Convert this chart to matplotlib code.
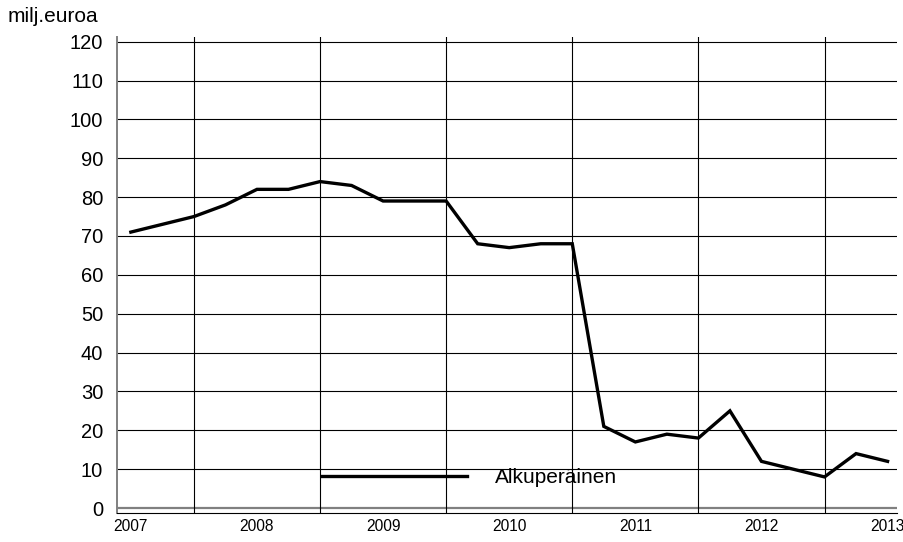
import numpy as np
import matplotlib.pyplot as plt

plt.rcParams['font.family'] = ['Liberation Sans', 'DejaVu Sans']

# quarterly values, 2007 Q1 .. 2013 Q1
values = [71, 73, 75, 78, 82, 82, 84, 83, 79, 79, 79, 68, 67, 68, 68,
          21, 17, 19, 18, 25, 12, 10, 8, 14, 12]
years = ['2007', '2008', '2009', '2010', '2011', '2012', '2013']
yticks = list(range(0, 121, 10))
series_name = 'Alkuperäinen'

x = np.arange(len(values))

fig = plt.figure(figsize=(9.04, 5.42), dpi=100)
ax = fig.add_axes([0.1294, 0.0544, 0.8629, 0.8773])

# grid
for v in yticks:
    if v == 0:
        ax.axhline(v, color='#808080', lw=1.6, zorder=1)
    else:
        ax.axhline(v, color='black', lw=0.8, zorder=1)
for xv in range(2, len(values), 4):
    ax.axvline(xv, color='black', lw=0.8, zorder=1)

ax.plot(x, values, color='black', lw=2.4, solid_joinstyle='miter', label=series_name, zorder=3)

ax.set_xlim(-0.44, 24.3)
ax.set_ylim(-1.16, 121.2)

ax.set_yticks(yticks)
ax.set_yticklabels([str(v) for v in yticks], fontsize=14.5)
ax.set_xticks(range(0, len(values), 4))
ax.set_xticklabels(years, fontsize=11.2)
ax.tick_params(axis='both', length=0)
ax.tick_params(axis='y', pad=10)
ax.tick_params(axis='x', pad=5)

for s in ['top', 'right']:
    ax.spines[s].set_visible(False)
ax.spines['left'].set_color('#808080')
ax.spines['left'].set_linewidth(1.4)
ax.spines['bottom'].set_color('black')
ax.spines['bottom'].set_linewidth(0.8)

ax.legend(loc='center left', bbox_to_anchor=(0.263, 0.073), frameon=False,
          fontsize=15, handlelength=6.96, handletextpad=1.35, borderpad=0, borderaxespad=0)

fig.text(8 / 904, 1 - 17 / 542, 'milj.euroa', fontsize=15, ha='left', va='center')

fig.savefig('out.png', dpi=100)
